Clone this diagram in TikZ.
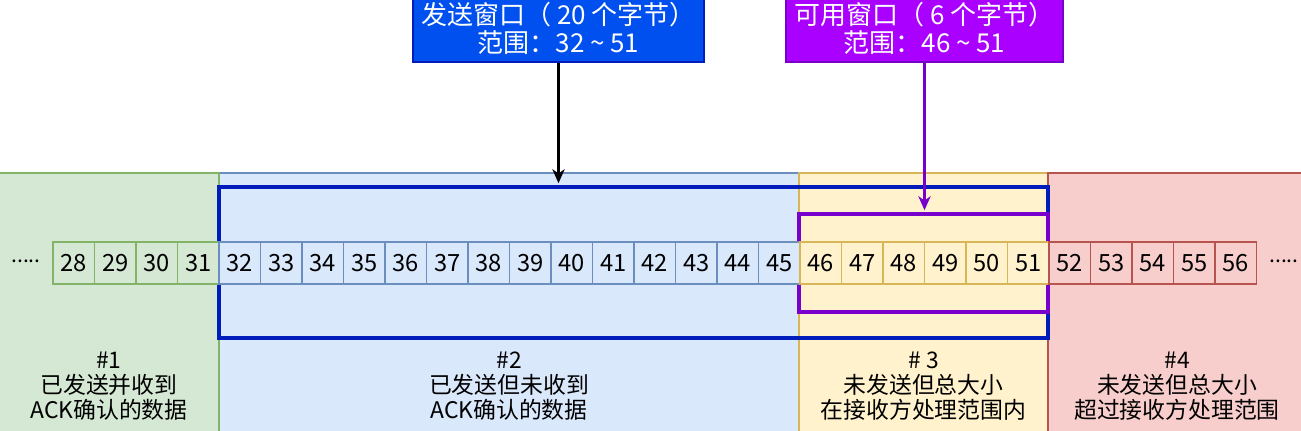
\documentclass[tikz,border=0pt]{standalone}
\usepackage{fontspec}
\setmainfont{Noto Sans CJK SC}
\usetikzlibrary{arrows.meta}

\definecolor{ackfill}{HTML}{D5E8D4}
\definecolor{ackline}{HTML}{82B366}
\definecolor{sentfill}{HTML}{DAE8FC}
\definecolor{sentline}{HTML}{6C8EBF}
\definecolor{usefill}{HTML}{FFF2CC}
\definecolor{useline}{HTML}{D6B656}
\definecolor{overfill}{HTML}{F8CECC}
\definecolor{overline}{HTML}{B85450}
\definecolor{sendblue}{HTML}{0050EF}
\definecolor{sendedge}{HTML}{001DBC}
\definecolor{availpurple}{HTML}{AA00FF}
\definecolor{availedge}{HTML}{7700CC}

\begin{document}
\begin{tikzpicture}[
    x=0.02cm, y=-0.02cm,
    zone/.style={line width=0.9pt},
    cell/.style={rectangle, draw, minimum width=0.83cm, minimum height=0.84cm, inner sep=0pt, line width=0.9pt, font=\fontsize{13.5}{15}\selectfont},
    window/.style={rectangle, draw, line width=2.3pt, inner sep=0pt},
    winbox/.style={rectangle, draw, line width=0.8pt, text=white, align=center, inner sep=0pt, font=\fontsize{14.8}{16}\selectfont},
    zonelabel/.style={align=center, font=\fontsize{13}{14.3}\selectfont},
    arrow/.style={-{Stealth[length=8pt, width=7pt, inset=2.5pt]}, line width=1.2pt, shorten >=1pt}
]
\useasboundingbox (0,0) rectangle (1301,430);
\clip (0,0) rectangle (1301,430);

% Zones
\filldraw[zone, fill=sentfill, draw=sentline] (219,173) rectangle (799,445);
\filldraw[zone, fill=ackfill, draw=ackline] (-5,173) rectangle (219,445);
\filldraw[zone, fill=usefill, draw=useline] (799,173) rectangle (1048,445);
\filldraw[zone, fill=overfill, draw=overline] (1048,173) rectangle (1310,445);

% Windows
\node[window, draw=sendedge, minimum width=16.58cm, minimum height=3.02cm] (sendwin) at (633.5,262.5) {};
\node[window, draw=availedge, minimum width=4.98cm, minimum height=1.96cm] (availwin) at (923.5,263) {};

% Bytes
\foreach \n in {28,...,31}
  \node[cell, fill=ackfill, draw=ackline] (c\n) at ({73.75+(\n-28)*41.5},263) {\n};
\foreach \n in {32,...,45}
  \node[cell, fill=sentfill, draw=sentline] (c\n) at ({73.75+(\n-28)*41.5},263) {\n};
\foreach \n in {46,...,51}
  \node[cell, fill=usefill, draw=useline] (c\n) at ({73.75+(\n-28)*41.5},263) {\n};
\foreach \n in {52,...,56}
  \node[cell, fill=overfill, draw=overline] (c\n) at ({73.75+(\n-28)*41.5},263) {\n};

\node[anchor=base, font=\fontsize{12}{14}\selectfont, inner sep=0pt] (ldots) at (26,262) {.....};
\node[anchor=base, font=\fontsize{12}{14}\selectfont, inner sep=0pt] (rdots) at (1284,262) {.....};

% Window boxes
\node[winbox, fill=sendblue, draw=sendedge, minimum width=5.82cm, minimum height=1.36cm] (sendbox) at (558.5,28) {发送窗口（ 20 个字节）\\范围：32 \textasciitilde{} 51};
\node[winbox, fill=availpurple, draw=availedge, minimum width=5.54cm, minimum height=1.36cm] (availbox) at (924.5,28) {可用窗口（ 6 个字节）\\范围：46 \textasciitilde{} 51};

% Arrows
\draw[arrow, black] (sendbox.south) -- (sendbox.south |- sendwin.north);
\draw[arrow, availedge] (availbox.south) -- (availbox.south |- availwin.north);

% Zone labels
\node[zonelabel] (lab1) at (109,386) {\#1\\已发送并收到\\ACK确认的数据};
\node[zonelabel] (lab2) at (509,386) {\#2\\已发送但未收到\\ACK确认的数据};
\node[zonelabel] (lab3) at (923.5,386) {\# 3\\未发送但总大小\\在接收方处理范围内};
\node[zonelabel] (lab4) at (1177,386) {\#4\\未发送但总大小\\超过接收方处理范围};

\end{tikzpicture}
\end{document}
